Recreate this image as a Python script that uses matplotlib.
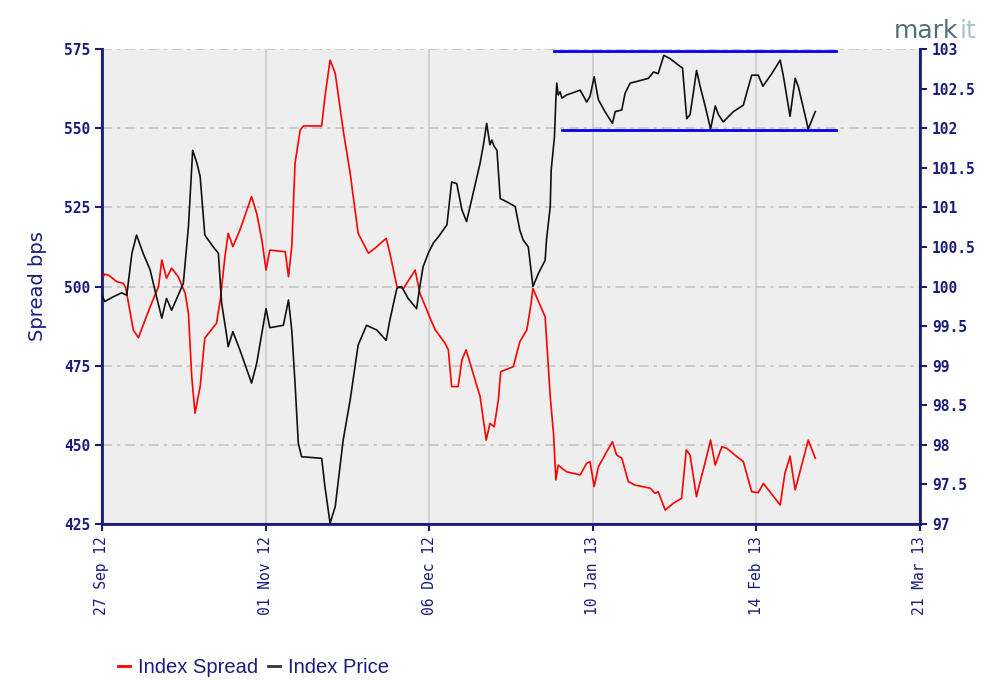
import datetime as dt
import matplotlib
matplotlib.use("Agg")
import matplotlib.pyplot as plt
import matplotlib.dates as mdates
from matplotlib.lines import Line2D

# x values are days after 27 Sep 2012
start = dt.datetime(2012, 9, 27)

spread_days = [0, 0.6, 1.4, 3.2, 4.6, 5.1, 6.7, 7.8, 8.8, 10.3, 12.1, 12.8, 13.8, 14.9,
               16.3, 17.8, 18.5, 19.2, 19.9, 21.0, 22.0, 24.5, 25.3, 26.3, 27.0, 28.0,
               29.5, 32.0, 33.1, 34.2, 35.1, 35.9, 39.2, 39.9, 40.6, 41.3, 42.4, 43.1,
               47.0, 47.7, 48.8, 49.9, 51.6, 53.1, 54.8, 57.0, 58.4, 60.8, 61.6, 63.1,
               64.5, 67.0, 68.0, 69.5, 70.2, 71.3, 73.4, 74.1, 74.8, 76.2, 77.0, 77.9,
               79.4, 80.9, 82.2, 83.0, 83.9, 84.8, 85.3, 88.0, 89.4, 90.9, 91.8, 92.2,
               93.4, 94.8, 95.9, 96.6, 97.1, 97.6, 98.4, 99.4, 102.3, 103.7, 104.4,
               105.3, 106.2, 107.6, 109.2, 110.1, 111.2, 112.6, 114.0, 117.3, 118.3,
               119.0, 120.5, 122.2, 124.0, 125.0, 125.8, 127.2, 127.6, 129.0, 130.2,
               131.2, 132.6, 133.7, 135.4, 137.2, 139.0, 140.4, 141.5, 145.1, 146.1,
               147.2, 148.3, 151.1, 152.6]
spread_vals = [502.5, 503.9, 503.6, 501.5, 501.0, 499.4, 486.3, 483.8, 487.8, 493.6,
               500.0, 508.4, 502.6, 505.8, 503.1, 497.9, 491.5, 471.5, 460.0, 468.4,
               483.7, 488.4, 495.7, 509.4, 516.8, 512.6, 517.8, 528.4, 523.1, 514.7,
               505.2, 511.5, 511.0, 503.1, 512.6, 538.9, 549.4, 550.7, 550.7, 559.9,
               571.5, 567.3, 549.4, 535.7, 516.8, 510.5, 512.1, 515.2, 510.5, 500.0,
               499.4, 505.2, 497.9, 492.6, 490.0, 486.3, 482.1, 480.0, 468.4, 468.4,
               476.8, 480.0, 472.6, 465.2, 451.5, 456.8, 455.7, 464.2, 473.1, 474.7,
               482.6, 486.3, 494.7, 499.4, 495.2, 490.5, 465.2, 453.6, 438.9, 443.6,
               442.6, 441.5, 440.5, 444.2, 444.7, 436.8, 443.1, 446.8, 451.0, 446.8,
               445.8, 438.4, 437.3, 436.3, 434.7, 435.2, 429.4, 431.5, 433.1, 448.4,
               446.8, 433.6, 436.3, 444.2, 451.5, 443.6, 449.4, 448.9, 446.8, 444.7,
               435.2, 434.9, 437.8, 431.0, 441.0, 446.4, 435.8, 451.5, 445.8]

price_days = [0, 0.6, 2.4, 4.2, 5.3, 6.4, 7.4, 8.8, 10.3, 11.3, 12.8, 13.8, 14.9, 17.4,
              18.5, 19.4, 20.3, 21.0, 22.0, 23.8, 24.9, 25.6, 26.7, 27.0, 28.0, 29.5,
              32.0, 33.1, 34.2, 35.1, 35.9, 38.8, 39.9, 40.6, 41.3, 42.0, 42.7, 47.0,
              47.7, 48.8, 49.9, 51.6, 53.1, 54.8, 56.6, 58.8, 60.8, 61.6, 63.1, 64.1,
              65.5, 67.3, 68.0, 68.7, 69.8, 70.9, 72.0, 73.8, 74.8, 75.9, 77.0, 78.0,
              79.4, 80.9, 81.6, 82.3, 83.0, 83.4, 83.9, 84.5, 85.2, 86.6, 88.4, 89.4,
              90.1, 91.2, 92.2, 93.4, 94.8, 95.1, 95.9, 96.1, 96.8, 97.1, 97.3, 97.6,
              98.0, 98.4, 99.4, 102.3, 103.7, 104.4, 105.3, 106.2, 107.6, 109.2, 109.8,
              111.2, 111.9, 113.0, 114.4, 116.9, 118.0, 119.0, 120.2, 121.5, 123.7,
              124.2, 125.1, 125.8, 126.5, 127.2, 128.0, 129.0, 130.2, 131.2, 131.9,
              132.9, 135.1, 137.2, 137.9, 139.0, 140.4, 141.4, 143.3, 145.1, 145.8,
              147.2, 148.3, 149.0, 151.1, 152.6]
price_vals = [99.89, 99.81, 99.87, 99.92, 99.89, 100.42, 100.65, 100.42, 100.21, 99.96,
              99.60, 99.85, 99.70, 100.04, 100.76, 101.72, 101.56, 101.39, 100.65,
              100.50, 100.42, 99.79, 99.37, 99.24, 99.43, 99.20, 98.78, 99.03, 99.41,
              99.72, 99.48, 99.51, 99.83, 99.45, 98.78, 98.02, 97.85, 97.83, 97.47,
              97.01, 97.22, 98.06, 98.57, 99.26, 99.51, 99.45, 99.32, 99.58, 99.98,
              100.00, 99.85, 99.72, 100.00, 100.25, 100.42, 100.55, 100.63, 100.78,
              101.32, 101.30, 100.97, 100.82, 101.18, 101.56, 101.79, 102.06, 101.79,
              101.85, 101.77, 101.72, 101.11, 101.07, 101.01, 100.71, 100.59, 100.50,
              100.00, 100.17, 100.33, 100.59, 101.01, 101.47, 101.89, 102.36, 102.57,
              102.42, 102.46, 102.38, 102.42, 102.48, 102.33, 102.40, 102.65, 102.36,
              102.21, 102.06, 102.21, 102.23, 102.44, 102.57, 102.59, 102.63, 102.71,
              102.69, 102.92, 102.88, 102.78, 102.76, 102.12, 102.17, 102.44, 102.73,
              102.52, 102.29, 101.99, 102.28, 102.17, 102.08, 102.21, 102.29, 102.44,
              102.67, 102.67, 102.53, 102.69, 102.86, 102.65, 102.15, 102.63, 102.52,
              101.99, 102.21]

# blue range lines drawn on the price axis
band_top = (96.8, 157.0, 102.97)
band_bottom = (98.4, 157.0, 101.98)

spread_ticks = [425, 450, 475, 500, 525, 550, 575]
price_ticks = [97, 97.5, 98, 98.5, 99, 99.5, 100, 100.5, 101, 101.5, 102, 102.5, 103]
tick_dates = ["2012-09-27", "2012-11-01", "2012-12-06", "2013-01-10", "2013-02-14", "2013-03-21"]

navy = "#1c1c7c"


def to_dates(days):
    return [start + dt.timedelta(days=d) for d in days]


fig = plt.figure(figsize=(9.95, 6.8), dpi=100)
ax = fig.add_axes([0.1025, 0.2294, 0.8221, 0.6985])
ax.set_facecolor("#eeeeee")

ticks = [dt.datetime.strptime(t, "%Y-%m-%d") for t in tick_dates]
ax.set_xlim(ticks[0], ticks[-1])
ax.set_ylim(425, 575)
ax.set_yticks(spread_ticks)
ax.set_xticks(ticks)
ax.xaxis.set_major_formatter(mdates.DateFormatter("%d %b %y"))
ax.grid(axis="y", color="#c4c4c4", linestyle=(0, (6, 3, 2, 3)), linewidth=1.2)
ax.grid(axis="x", color="#cccccc", linestyle="-", linewidth=1.2)
ax.set_axisbelow(True)

ax.plot(to_dates(spread_days), spread_vals, color="#ff0000", linewidth=1.2, zorder=3)

ax2 = ax.twinx()
ax2.set_ylim(97, 103)
ax2.set_yticks(price_ticks)
ax2.set_yticklabels([("%g" % t) for t in price_ticks])
ax2.plot(to_dates(price_days), price_vals, color="#111111", linewidth=1.2, zorder=3)
for d0, d1, v in (band_top, band_bottom):
    ax2.plot(to_dates([d0, d1]), [v, v], color="#0000ee", linewidth=2, zorder=4)

for a in (ax, ax2):
    for s in a.spines.values():
        s.set_color(navy)
        s.set_linewidth(1.5)
    a.tick_params(colors=navy, width=1.5, length=5)
ax.spines["top"].set_visible(False)
ax2.spines["top"].set_visible(False)
ax.spines["left"].set_linewidth(2)
ax2.spines["right"].set_linewidth(2)
ax.spines["bottom"].set_linewidth(2)

for lab in ax.get_yticklabels() + ax2.get_yticklabels():
    lab.set_fontsize(10.5)
    lab.set_fontfamily("DejaVu Sans Mono")
    lab.set_fontweight("bold")
for lab in ax.get_xticklabels():
    lab.set_rotation(90)
    lab.set_fontsize(10.5)
    lab.set_fontfamily("DejaVu Sans Mono")
    lab.set_color(navy)
    lab.set_va("top")
    lab.set_ha("center")

ax.set_ylabel("Spread bps", color=navy, fontsize=14, labelpad=12)

handles = [Line2D([], [], color="#ff0000", linewidth=2),
           Line2D([], [], color="#333333", linewidth=2)]
fig.legend(handles, ["Index Spread", "Index Price"], loc="center left",
           bbox_to_anchor=(0.1, 0.018), ncol=2, frameon=False, handlelength=0.6,
           handletextpad=0.4, columnspacing=0.5, labelcolor=navy,
           prop={"family": "Liberation Sans", "size": 14.5})

fig.text(0.9635, 0.955, "mark", color="#4f6f7c", fontsize=18, ha="right", va="center")
fig.text(0.9642, 0.955, "it", color="#a8c4cc", fontsize=18, ha="left", va="center")

fig.savefig("out.png", dpi=100)
